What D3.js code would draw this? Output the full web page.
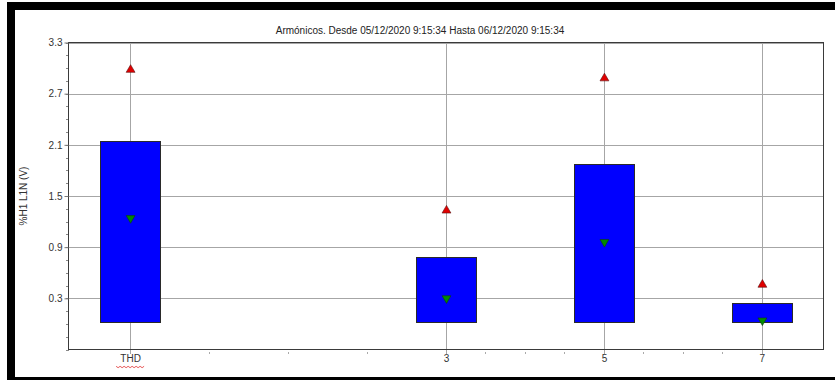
<!DOCTYPE html>
<html>
<head>
<meta charset="utf-8">
<script src="https://cdn.jsdelivr.net/npm/d3@7"></script>
<style>
  html, body { margin: 0; padding: 0; background: #ffffff; }
  svg { display: block; }
  text { font-family: Arial, "Liberation Sans", sans-serif; }
</style>
</head>
<body>
<svg id="chart" width="835" height="380"></svg>
<script>
// Harmonic categories and their slot on the horizontal axis
const categories = ["THD", "3", "5", "7"];
const slots = [0, 4, 6, 8];
// Box extent (upper and lower values) per category
const boxHigh = [2.14, 0.78, 1.87, 0.24];
const boxLow = [0.02, 0.02, 0.02, 0.02];
// Maximum (red) and minimum (green) markers
const maxValues = [2.98, 1.33, 2.88, 0.46];
const minValues = [1.24, 0.30, 0.96, 0.04];
// Axis ticks
const yTickLabels = [0.3, 0.9, 1.5, 2.1, 2.7, 3.3];
const yMinorTicks = d3.range(-0.3, 3.31, 0.15);
const xMinorTicks = [1, 2, 3, 4.5, 5, 5.5, 6.5, 7, 7.5];

const title = "Armónicos. Desde 05/12/2020 9:15:34 Hasta 06/12/2020 9:15:34";
const yLabel = "%H1 L1N (V)";

const svg = d3.select("#chart");

// Window frame
svg.append("rect").attr("x", 0).attr("y", 0).attr("width", 835).attr("height", 380).attr("fill", "#ffffff");
svg.append("rect").attr("x", 7).attr("y", 2).attr("width", 828).attr("height", 8).attr("fill", "#000");
svg.append("rect").attr("x", 7).attr("y", 2).attr("width", 8).attr("height", 378).attr("fill", "#000");
svg.append("rect").attr("x", 7).attr("y", 377).attr("width", 828).attr("height", 3).attr("fill", "#000");

const plotLeft = 68.5, plotRight = 823.5, plotTop = 42.5, plotBottom = 349.5;

const x = d3.scaleLinear().domain([-0.78, 8.78]).range([plotLeft, plotRight]);
const y = d3.scaleLinear().domain([-0.3, 3.3]).range([plotBottom, plotTop]);

const g = svg.append("g").attr("shape-rendering", "crispEdges");

// Horizontal grid lines
g.selectAll("line.hgrid").data(yTickLabels).join("line")
  .attr("class", "hgrid")
  .attr("x1", plotLeft).attr("x2", plotRight)
  .attr("y1", d => Math.round(y(d)) + 0.5).attr("y2", d => Math.round(y(d)) + 0.5)
  .attr("stroke", "#a6a6a6");

// Vertical grid lines at each category
g.selectAll("line.vgrid").data(slots).join("line")
  .attr("class", "vgrid")
  .attr("x1", d => Math.round(x(d)) + 0.5).attr("x2", d => Math.round(x(d)) + 0.5)
  .attr("y1", plotTop).attr("y2", plotBottom + 4)
  .attr("stroke", "#a6a6a6");

// Y axis with labelled and minor ticks
const yAxis = d3.axisLeft(y).tickValues(yTickLabels).tickFormat(d3.format(".1f")).tickSize(4).tickPadding(2);
const yAxisG = svg.append("g").attr("transform", `translate(${plotLeft},0)`).call(yAxis);
yAxisG.select(".domain").remove();
yAxisG.selectAll("line").attr("stroke", "#777");
yAxisG.selectAll("text").attr("font-size", 10).attr("fill", "#333")
  .attr("font-family", "Arial, 'Liberation Sans', sans-serif");

g.selectAll("line.yminor").data(yMinorTicks).join("line")
  .attr("class", "yminor")
  .attr("x1", plotLeft - 3).attr("x2", plotLeft)
  .attr("y1", d => Math.round(y(d)) + 0.5).attr("y2", d => Math.round(y(d)) + 0.5)
  .attr("stroke", "#888");

// X axis: category labels and minor ticks
const xAxis = d3.axisBottom(x).tickValues(slots).tickFormat((d, i) => categories[i]).tickSize(0).tickPadding(5);
const xAxisG = svg.append("g").attr("transform", `translate(0,${plotBottom})`).call(xAxis);
xAxisG.select(".domain").remove();
xAxisG.selectAll("text").attr("font-size", 10).attr("fill", "#333")
  .attr("font-family", "Arial, 'Liberation Sans', sans-serif");

g.selectAll("line.xminor").data(xMinorTicks).join("line")
  .attr("class", "xminor")
  .attr("x1", d => Math.round(x(d)) + 0.5).attr("x2", d => Math.round(x(d)) + 0.5)
  .attr("y1", plotBottom + 2).attr("y2", plotBottom + 4)
  .attr("stroke", "#aaa");

// Boxes
const boxW = 60;
g.selectAll("rect.box").data(categories).join("rect")
  .attr("class", "box")
  .attr("x", (d, i) => Math.round(x(slots[i]) - boxW / 2) + 0.5)
  .attr("y", (d, i) => Math.round(y(boxHigh[i])) + 0.5)
  .attr("width", boxW)
  .attr("height", (d, i) => Math.round(y(boxLow[i])) - Math.round(y(boxHigh[i])))
  .attr("fill", "#0000ff")
  .attr("stroke", "#2a2a2a");

// Plot frame
g.append("rect")
  .attr("x", plotLeft).attr("y", plotTop)
  .attr("width", plotRight - plotLeft).attr("height", plotBottom - plotTop)
  .attr("fill", "none").attr("stroke", "#3a3a3a");

// Max / min markers
const tri = d3.symbol().type(d3.symbolTriangle).size(34);
svg.selectAll("path.maxMark").data(categories).join("path")
  .attr("class", "maxMark")
  .attr("d", tri)
  .attr("transform", (d, i) => `translate(${x(slots[i]) + 0.5},${y(maxValues[i])})`)
  .attr("fill", "#e00000").attr("stroke", "#5a1010").attr("stroke-width", 0.6);

svg.selectAll("path.minMark").data(categories).join("path")
  .attr("class", "minMark")
  .attr("d", tri)
  .attr("transform", (d, i) => `translate(${x(slots[i]) + 0.5},${y(minValues[i])}) rotate(180)`)
  .attr("fill", "#008a00").attr("stroke", "#103a10").attr("stroke-width", 0.6);

// Title
svg.append("text")
  .attr("x", 420).attr("y", 34)
  .attr("text-anchor", "middle")
  .attr("font-size", 10).attr("fill", "#222")
  .text(title);

// Y axis label
svg.append("text")
  .attr("transform", "translate(27,196) rotate(-90)")
  .attr("text-anchor", "middle")
  .attr("font-size", 10).attr("fill", "#333")
  .text(yLabel);

// Spell-check squiggle under the THD label
const thdX = x(slots[0]);
const wave = d3.range(0, 15).map(k => [thdX - 14 + k * 2, 366.5 + (k % 2 ? 1.2 : -0.2)]);
svg.append("path")
  .attr("d", d3.line()(wave))
  .attr("fill", "none").attr("stroke", "#e03030").attr("stroke-width", 0.8);
</script>
</body>
</html>
